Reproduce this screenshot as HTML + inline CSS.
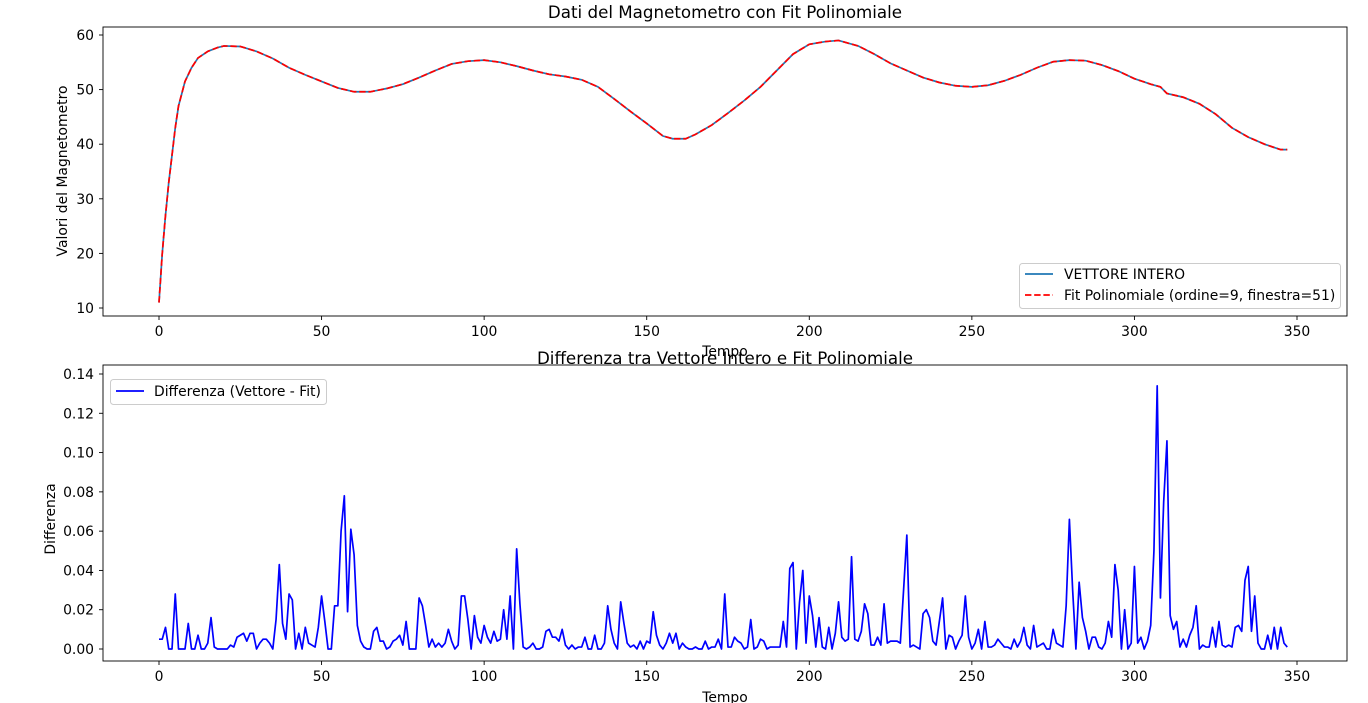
<!DOCTYPE html>
<html><head><meta charset="utf-8">
<style>
html,body{margin:0;padding:0;background:#fff;}
svg{display:block;font-family:"DejaVu Sans","Liberation Sans",sans-serif;}
</style></head>
<body>
<svg id="fig" width="1368" height="703" viewBox="0 0 1368 703"></svg>
<script>
// ---- Top chart data ----
const topTimes = [0,1,2,3,4,5,6,8,10,12,15,18,20,25,30,35,40,45,50,55,60,65,70,75,80,85,90,95,100,105,110,115,120,125,130,135,140,145,150,155,158,162,165,170,175,180,185,190,195,200,205,209,215,220,225,230,235,240,245,250,255,260,265,270,275,280,285,290,295,300,305,308,310,315,320,325,330,335,340,345,347];
const topValues = [11,20,27,33,38,43,47,51.5,54,55.8,57,57.7,58,57.9,57,55.7,54,52.7,51.5,50.3,49.6,49.6,50.2,51,52.2,53.5,54.7,55.2,55.4,55,54.3,53.5,52.8,52.4,51.8,50.5,48.3,46,43.8,41.5,41,41,41.8,43.5,45.7,48,50.5,53.5,56.5,58.3,58.8,59,58,56.5,54.8,53.5,52.2,51.3,50.7,50.5,50.8,51.6,52.7,54,55.1,55.4,55.3,54.5,53.4,52,51,50.5,49.3,48.6,47.4,45.5,43,41.3,40,39,39];
const xTicks = [0,50,100,150,200,250,300,350];
const topYTicks = [10,20,30,40,50,60];
const diffYTicks = [0.00,0.02,0.04,0.06,0.08,0.10,0.12,0.14];
// ---- Bottom chart data (difference, index = time) ----
const diffValues = [0.005,0.005,0.011,0,0,0.028,0,0,0,0.013,0,0,0.007,0,0,0.003,0.016,0.001,0,0,0,0,0.002,0.001,0.006,0.007,0.008,0.004,0.008,0.008,0,0.003,0.005,0.005,0.003,0,0.015,0.043,0.013,0.005,0.028,0.025,0,0.008,0,0.011,0.003,0.002,0.001,0.011,0.027,0.014,0,0,0.022,0.022,0.06,0.078,0.019,0.061,0.048,0.012,0.004,0.001,0,0,0.009,0.011,0.004,0.004,0,0.001,0.004,0.005,0.007,0.002,0.014,0,0,0,0.026,0.022,0.012,0.001,0.005,0.001,0.003,0.001,0.003,0.01,0.004,0,0.002,0.027,0.027,0.015,0,0.017,0.006,0.003,0.012,0.006,0.003,0.009,0.004,0.005,0.02,0.005,0.027,0,0.051,0.023,0.001,0,0.001,0.003,0,0,0.001,0.009,0.01,0.006,0.006,0.004,0.01,0.002,0,0.002,0,0.001,0.001,0.006,0,0,0.007,0,0,0.003,0.022,0.01,0.003,0,0.024,0.013,0.003,0.001,0.002,0,0.004,0,0.004,0.003,0.019,0.007,0.002,0,0.003,0.008,0.003,0.008,0,0.003,0.001,0,0,0.001,0,0,0.004,0,0.001,0.001,0.005,0,0.028,0.001,0.001,0.006,0.004,0.003,0,0.001,0.015,0,0.001,0.005,0.004,0,0.001,0.001,0.001,0.001,0.014,0.001,0.041,0.044,0,0.024,0.04,0.003,0.027,0.017,0.001,0.016,0.001,0,0.011,0,0.008,0.024,0.006,0.004,0.005,0.047,0.005,0.004,0.009,0.023,0.018,0.002,0.002,0.006,0.002,0.023,0.003,0.004,0.004,0.004,0.003,0.03,0.058,0.001,0.002,0.001,0,0.018,0.02,0.016,0.004,0.002,0.014,0.026,0,0.007,0.006,0,0.004,0.007,0.027,0.006,0,0.003,0.01,0,0.014,0.001,0.001,0.002,0.005,0.003,0.001,0.001,0,0.005,0.001,0.004,0.011,0.002,0,0.012,0.001,0.002,0.003,0,0,0.01,0.003,0.002,0.001,0.022,0.066,0.03,0,0.034,0.016,0.009,0,0.006,0.006,0.001,0,0.003,0.014,0.006,0.043,0.03,0,0.02,0,0.003,0.042,0.003,0.006,0,0.004,0.012,0.05,0.134,0.026,0.075,0.106,0.017,0.01,0.014,0.001,0.005,0.001,0.007,0.011,0.022,0,0.002,0.001,0.001,0.011,0.001,0.014,0.002,0.001,0.002,0.001,0.011,0.012,0.009,0.035,0.042,0.009,0.027,0.003,0,0,0.007,0,0.011,0,0.011,0.003,0.001];

const NS="http://www.w3.org/2000/svg";
const svg=document.getElementById('fig');
function mk(tag,attrs,parent){const e=document.createElementNS(NS,tag);for(const k in attrs)e.setAttribute(k,attrs[k]);(parent||svg).appendChild(e);return e;}
function txt(s,attrs,parent){const e=mk('text',attrs,parent);e.textContent=s;return e;}

const xs = v => 159 + v*(1297-159)/350;
const yTop = v => 308 - (v-10)*(308-35)/50;
const yDiff = v => 649 - v*(649-374)/0.14;
const FS = 13.9, TFS = 16.7;

function axes(top,bottom,yFn,yTicks,fmt,name){
  const g=mk('g',{});
  
  
  xTicks.forEach(t=>{
    const x=xs(t);
    mk('line',{x1:x,x2:x,y1:bottom,y2:bottom+4,stroke:'#000','stroke-width':0.9},g);
    const l=txt(String(t),{x:x,y:bottom+20,'font-size':FS,'text-anchor':'middle',fill:'#000'},g);
    
    
  });
  yTicks.forEach(t=>{
    const y=yFn(t);
    mk('line',{x1:103,x2:99,y1:y,y2:y,stroke:'#000','stroke-width':0.9},g);
    const l=txt(fmt(t),{x:94,y:y+5,'font-size':FS,'text-anchor':'end',fill:'#000'},g);
    
    
  });
  return g;
}
function frame(top,bottom,name){
  const r=mk('rect',{x:103,y:top,width:1244,height:bottom-top,fill:'none',stroke:'#000','stroke-width':0.9});
  
  
}

// ---- Top chart ----
axes(27,316,yTop,topYTicks,t=>String(t),'top');
let d1=topTimes.map((t,i)=>(i?'L':'M')+xs(t).toFixed(2)+','+yTop(topValues[i]).toFixed(2)).join(' ');
const l1=mk('path',{d:d1,fill:'none',stroke:'#1f77b4','stroke-width':1.7});


const l2=mk('path',{d:d1,fill:'none',stroke:'#ff0000','stroke-width':1.7,'stroke-dasharray':'6.4,2.8'});


frame(27,316,'top');
const t1=txt('Dati del Magnetometro con Fit Polinomiale',{x:725,y:18,'font-size':TFS,'text-anchor':'middle'});


const xl1=txt('Tempo',{x:725,y:356,'font-size':FS,'text-anchor':'middle'});


const yl1=txt('Valori del Magnetometro',{x:0,y:0,'font-size':FS,'text-anchor':'middle',transform:'translate(67,171) rotate(-90)'});


// legend top
const lg=mk('g',{});


mk('rect',{x:1019.5,y:263.5,width:321,height:45,rx:3,fill:'#fff','fill-opacity':0.8,stroke:'#ccc'},lg);
mk('line',{x1:1025,x2:1053,y1:274,y2:274,stroke:'#1f77b4','stroke-width':1.7},lg);
const le1=txt('VETTORE INTERO',{x:1064,y:279,'font-size':FS},lg);


mk('line',{x1:1025,x2:1053,y1:295,y2:295,stroke:'#ff0000','stroke-width':1.7,'stroke-dasharray':'6.4,2.8'},lg);
const le2=txt('Fit Polinomiale (ordine=9, finestra=51)',{x:1064,y:300,'font-size':FS},lg);



// ---- Bottom chart ----
axes(365,661,yDiff,diffYTicks,t=>t.toFixed(2),'diff');
let d2=diffValues.map((v,i)=>(i?'L':'M')+xs(i).toFixed(2)+','+yDiff(v).toFixed(2)).join(' ');
const l3=mk('path',{d:d2,fill:'none',stroke:'#0000ff','stroke-width':1.7,'stroke-linejoin':'round'});


frame(365,661,'diff');
const t2=txt('Differenza tra Vettore Intero e Fit Polinomiale',{x:725,y:364,'font-size':TFS,'text-anchor':'middle'});


const xl2=txt('Tempo',{x:725,y:702,'font-size':FS,'text-anchor':'middle'});


const yl2=txt('Differenza',{x:0,y:0,'font-size':FS,'text-anchor':'middle',transform:'translate(55,519) rotate(-90)'});


const lg2=mk('g',{});


mk('rect',{x:110.5,y:379.5,width:216,height:25,rx:3,fill:'#fff','fill-opacity':0.8,stroke:'#ccc'},lg2);
mk('line',{x1:116,x2:144,y1:391,y2:391,stroke:'#0000ff','stroke-width':1.7},lg2);
const le3=txt('Differenza (Vettore - Fit)',{x:154,y:396,'font-size':FS},lg2);


</script>
</body></html>
